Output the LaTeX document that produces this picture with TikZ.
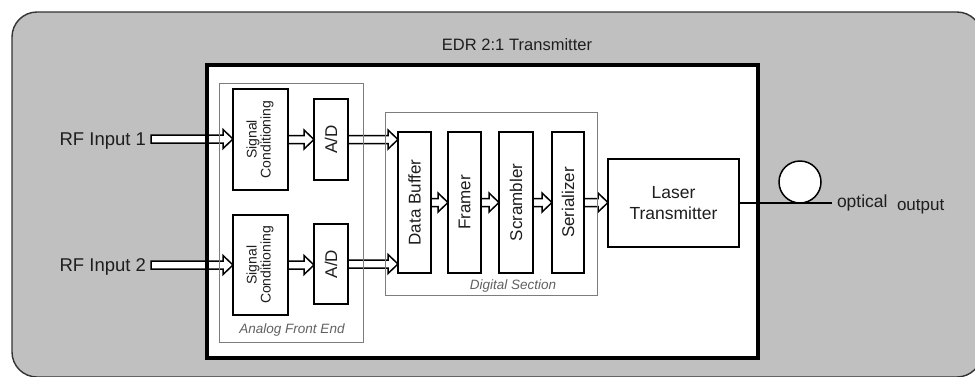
\documentclass[tikz,border=0pt]{standalone}
\usepackage{fontspec}
\setmainfont{Liberation Sans}
\usepackage{graphicx}
\usetikzlibrary{calc}
\definecolor{panelgray}{RGB}{192,192,192}
\definecolor{txt}{RGB}{30,30,30}
\definecolor{framegray}{RGB}{125,125,125}
\tikzset{
  blk/.style={draw=black, line width=2.2pt, fill=white, inner sep=0pt, outer sep=0pt,
    anchor=north west, text=txt, align=center, font=\fontsize{17}{20}\selectfont},
  cont/.style={draw=framegray, line width=0.9pt, inner sep=0pt, outer sep=0pt, anchor=north west},
  lbl/.style={text=txt, inner sep=0pt, outer sep=0pt},
  ilbl/.style={text=black!62, inner sep=0pt, font=\itshape\fontsize{13.5}{16}\selectfont},
  barrow/.style={draw=black, fill=white, line width=1.5pt, line join=miter},
}
\newcommand\blockarr[2]{\filldraw[barrow] let \p1=#1, \p2=#2 in
  (\x1,\y1+4pt) -- (\x2-10pt,\y1+4pt) -- (\x2-10pt,\y1+9.5pt) -- (\x2,\y1)
  -- (\x2-10pt,\y1-9.5pt) -- (\x2-10pt,\y1-4pt) -- (\x1,\y1-4pt) -- cycle;}
\begin{document}
\begin{tikzpicture}[x=1pt,y=-1pt]
\useasboundingbox (0,0) rectangle (975,376);
\clip (0,0) rectangle (975,376);
% outer panel
\draw[fill=panelgray, draw=black!80, line width=1.4pt, rounded corners=25pt] (12,12) rectangle (982,377);
\node[lbl, font=\fontsize{16.5}{20}\selectfont] (title) at (517,45) {EDR 2:1\hspace{0.3em}Transmitter};
% main white box
\node[fill=white, inner sep=0pt, outer sep=0pt, anchor=north west,
  minimum width=551pt, minimum height=293pt] (main) at (207,65) {};
% analog blocks
\node[blk, minimum width=55pt, minimum height=101pt] (sc1) at (233,89)
  {\rotatebox{90}{\fontsize{14}{16}\selectfont\begin{tabular}{@{}c@{}}Signal\\[-2pt]Conditioning\end{tabular}}};
\node[blk, minimum width=55pt, minimum height=100pt] (sc2) at (233,215)
  {\rotatebox{90}{\fontsize{14}{16}\selectfont\begin{tabular}{@{}c@{}}Signal\\[-2pt]Conditioning\end{tabular}}};
\node[blk, minimum width=34pt, minimum height=81pt] (ad1) at (314,99) {\rotatebox{90}{A/D}};
\node[blk, minimum width=34pt, minimum height=80pt] (ad2) at (314,224) {\rotatebox{90}{A/D}};
% digital blocks
\node[blk, minimum width=33pt, minimum height=141pt] (db) at (398,132) {\rotatebox{90}{Data Buffer}};
\node[blk, minimum width=33pt, minimum height=141pt] (fr) at (448,132) {\rotatebox{90}{Framer}};
\node[blk, minimum width=34pt, minimum height=141pt] (scr) at (499,132) {\rotatebox{90}{Scrambler}};
\node[blk, minimum width=32pt, minimum height=141pt] (se) at (552,132) {\rotatebox{90}{Serializer}};
% laser
\node[blk, minimum width=131pt, minimum height=88pt, font=\fontsize{17.5}{21}\selectfont] (lt) at (608,159) {Laser\\Transmitter};
% inputs
\node[lbl, anchor=base east, font=\fontsize{18.5}{21}\selectfont] (rf1) at (146,145.5) {RF Input 1};
\node[lbl, anchor=base east, font=\fontsize{18.5}{21}\selectfont] (rf2) at (146,271.5) {RF Input 2};
\coordinate (rf1s) at (151,139);
\coordinate (rf2s) at (151,265);
% arrows
\blockarr{(rf1s)}{(sc1.west |- rf1s)}
\blockarr{(rf2s)}{(sc2.west |- rf2s)}
\blockarr{(sc1.east)}{(ad1.west |- sc1.east)}
\blockarr{(sc2.east)}{(ad2.west |- sc2.east)}
\blockarr{(ad1.east)}{(db.west |- ad1.east)}
\blockarr{(ad2.east)}{(db.west |- ad2.east)}
\blockarr{(db.east)}{(fr.west)}
\blockarr{(fr.east)}{(scr.west)}
\blockarr{(scr.east)}{(se.west)}
\blockarr{(se.east)}{(lt.west |- se.east)}
% containers
\node[cont, minimum width=144pt, minimum height=259pt] (afe) at (219,83) {};
\node[cont, minimum width=212pt, minimum height=183pt] (ds) at (385,112) {};
\node[ilbl] (afel) at (292,330) {Analog Front End};
\node[ilbl] (dsl) at (513,286) {Digital Section};
% optical output
\coordinate (fend) at (832,203);
\draw[line width=1.8pt] (lt.east) -- (fend);
\node[draw=black, fill=white, circle, line width=1.5pt, minimum size=42pt, inner sep=0pt] (fib) at (800,182) {};
\node[lbl, anchor=base west, font=\fontsize{17.5}{20}\selectfont] (opt) at (837,207) {optical};
\node[lbl, anchor=base west, font=\fontsize{17}{20}\selectfont] (outp) at (897,210) {output};
% main box border on top
\draw[line width=3.6pt] (main.north west) rectangle (main.south east);
\end{tikzpicture}
\end{document}
